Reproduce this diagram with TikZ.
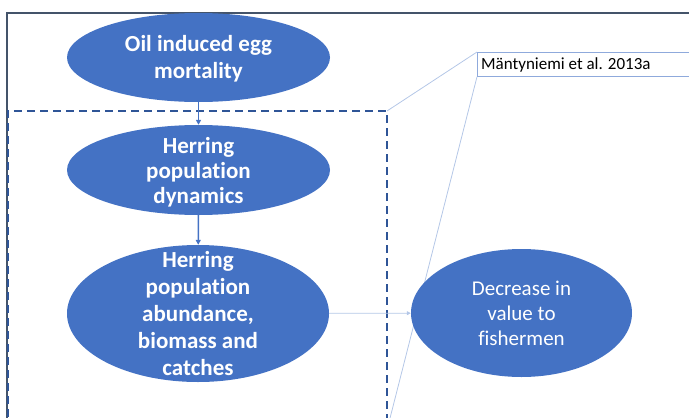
\documentclass[tikz,border=0pt]{standalone}
\usepackage{fontspec}
\setmainfont{Carlito}[Ligatures={NoCommon}]
\usetikzlibrary{shapes.geometric,arrows.meta}

\definecolor{accent}{HTML}{4472C4}
\definecolor{frameclr}{HTML}{44546A}
\definecolor{dashclr}{HTML}{2F5597}
\definecolor{callout}{HTML}{B4C7E7}
\definecolor{calloutbox}{HTML}{8FAADC}

\tikzset{
  blob/.style={ellipse, fill=accent, draw=none, inner sep=0pt},
  boldtxt/.style={text=white, align=center, inner sep=0pt,
                  font=\fontsize{23}{27}\selectfont\bfseries},
  plaintxt/.style={text=white, align=center, inner sep=0pt,
                  font=\fontsize{21}{25}\selectfont},
  flow/.style={draw=accent, line width=1.5pt,
               -{Triangle[length=5pt,width=5pt]}},
  thinflow/.style={draw=callout, line width=0.8pt,
               -{Triangle[length=4pt,width=4pt]}},
  leader/.style={draw=callout, line width=0.8pt},
}

\begin{document}
\begin{tikzpicture}[x=1pt,y=-1pt]
  \useasboundingbox (0,0) rectangle (689,418);
  \clip (0,0) rectangle (689,418);

  % outer frame (top and left edges)
  \coordinate (fTR) at (700,13);
  \coordinate (fTL) at (7,13);
  \coordinate (fBL) at (7,430);
  \draw[frameclr, line width=2.2pt] (fTR) -- (fTL) -- (fBL);

  % dashed group boundary
  \coordinate (gTL) at (8,111);
  \coordinate (gTR) at (387,111);
  \coordinate (gBR) at (387,430);
  \draw[dashclr, line width=2pt, dash pattern=on 8pt off 5pt]
    (8,430) -- (gTL) -- (gTR) -- (gBR);

  % reference callout
  \node[draw=calloutbox, line width=0.8pt, fill=white, anchor=north west,
        minimum width=240pt, minimum height=24pt, inner sep=0pt]
        (ref) at (477,52) {};
  \node[anchor=west, inner sep=0pt, font=\fontsize{17}{20}\selectfont]
        (reftxt) at (481,64.5) {Mäntyniemi et al. 2013a};
  \draw[leader] (ref.north west) -- (gTR);
  \draw[leader] (ref.south west) -- (gBR);

  % nodes
  \node[blob, minimum width=263pt, minimum height=89pt,
        label={[boldtxt, yshift=-1.5pt]center:Oil induced egg\\mortality}]
        (oil) at (198.5,57.5) {};
  \node[blob, minimum width=263pt, minimum height=90pt,
        label={[boldtxt, font=\fontsize{23}{25}\selectfont\bfseries, yshift=-2.5pt]center:Herring\\population\\dynamics}]
        (dyn) at (198.5,170) {};
  \node[blob, minimum width=262pt, minimum height=137pt,
        label={[boldtxt]center:Herring\\population\\abundance,\\biomass and\\catches}]
        (abund) at (198,313.5) {};
  \node[blob, minimum width=221pt, minimum height=128pt,
        label={[plaintxt]center:Decrease in\\value to\\fishermen}]
        (value) at (521.5,313) {};

  % connectors
  \draw[flow] (oil) -- (dyn);
  \draw[flow] (dyn) -- (abund);
  \draw[thinflow] (abund) -- (value);
\end{tikzpicture}
\end{document}
